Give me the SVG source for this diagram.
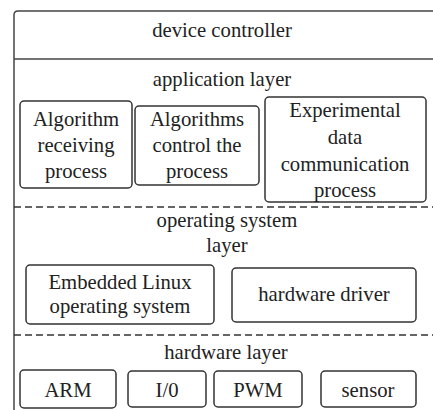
<svg xmlns="http://www.w3.org/2000/svg" width="433" height="410" viewBox="0 0 433 410" font-family="'Liberation Serif', 'Times New Roman', serif" font-size="20.7">
<style>
text{font-family:'Liberation Serif','Times New Roman',serif;font-size:20.7px;fill:#222;text-anchor:middle}
.box{fill:#fff;stroke:#333;stroke-width:1.5}
.frame{fill:none;stroke:#444;stroke-width:1.5}
.dash{stroke:#333;stroke-width:1.5;stroke-dasharray:7 4;fill:none}
</style>
<rect width="433" height="410" fill="#fff"/>
<g id="frame">
<path class="frame" d="M14,420 V15 Q14,11 18,11 H440"/>
<line class="frame" x1="14" y1="59" x2="440" y2="59"/>
<text x="222" y="37">device controller</text>
</g>
<g id="connectors">
<line class="dash" x1="14" y1="207" x2="433" y2="207"/>
<line class="dash" x1="14" y1="335" x2="433" y2="335"/>
</g>
<g id="application-layer">
<text x="222" y="86">application layer</text>
</g>
<g id="n-alg-receiving">
<rect class="box" x="20" y="101" width="112" height="87" rx="4"/>
<text x="76" y="126">Algorithm</text>
<text x="76" y="152">receiving</text>
<text x="76" y="178">process</text>
</g>
<g id="n-alg-control">
<rect class="box" x="135" y="106" width="124" height="79" rx="4"/>
<text x="197" y="126">Algorithms</text>
<text x="197" y="152">control the</text>
<text x="197" y="178">process</text>
</g>
<g id="n-experimental">
<rect class="box" x="265" y="97" width="161" height="105" rx="4"/>
<text x="345" y="117">Experimental</text>
<text x="345" y="144">data</text>
<text x="345" y="171">communication</text>
<text x="345" y="197">process</text>
</g>
<g id="os-layer">
<text x="227" y="227">operating system</text>
<text x="227" y="252">layer</text>
</g>
<g id="n-linux">
<rect class="box" x="26" y="265" width="188" height="59" rx="4"/>
<text x="120" y="289">Embedded Linux</text>
<text x="120" y="313">operating system</text>
</g>
<g id="n-driver">
<rect class="box" x="232" y="268" width="184" height="54" rx="4"/>
<text x="324" y="301">hardware driver</text>
</g>
<g id="hardware-layer">
<text x="226" y="359">hardware layer</text>
</g>
<g id="n-arm">
<rect class="box" x="20" y="370" width="96" height="38" rx="4"/>
<text x="68" y="397">ARM</text>
</g>
<g id="n-io">
<rect class="box" x="128" y="371" width="78" height="36" rx="4"/>
<text x="167" y="397">I/0</text>
</g>
<g id="n-pwm">
<rect class="box" x="214" y="371" width="88" height="36" rx="4"/>
<text x="258" y="397">PWM</text>
</g>
<g id="n-sensor">
<rect class="box" x="321" y="371" width="95" height="36" rx="4"/>
<text x="368" y="397">sensor</text>
</g>
</svg>
